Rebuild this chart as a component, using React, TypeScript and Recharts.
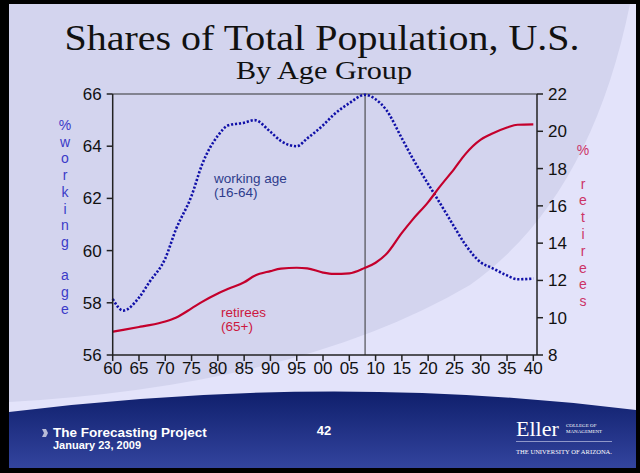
import { LineChart, Line, XAxis, YAxis, ReferenceLine } from "recharts";

const years = [
  1960, 1962, 1965, 1967, 1970, 1972, 1975, 1977, 1980, 1982, 1985, 1987,
  1990, 1992, 1995, 1997, 2000, 2002, 2005, 2008, 2010, 2012, 2015, 2017,
  2020, 2022, 2025, 2027, 2030, 2032, 2035, 2037, 2040,
];

// % of population aged 16-64 (left axis)
const workingAge = [
  58.15, 57.7, 58.2, 58.8, 59.7, 60.8, 62.1, 63.3, 64.4, 64.8, 64.9, 65.0,
  64.55, 64.2, 64.0, 64.3, 64.8, 65.2, 65.65, 65.97, 65.8, 65.4, 64.3, 63.55,
  62.55, 61.9, 60.9, 60.25, 59.55, 59.35, 59.05, 58.9, 58.93,
];

// % of population aged 65+ (right axis)
const retirees = [
  9.25, 9.35, 9.5, 9.6, 9.8, 10.0, 10.5, 10.85, 11.3, 11.55, 11.9, 12.25,
  12.5, 12.63, 12.68, 12.65, 12.42, 12.35, 12.38, 12.68, 12.95, 13.4, 14.55,
  15.25, 16.2, 16.95, 18.0, 18.75, 19.55, 19.85, 20.2, 20.35, 20.37,
];

const xTicks = [
  1960, 1965, 1970, 1975, 1980, 1985, 1990, 1995, 2000, 2005, 2010, 2015,
  2020, 2025, 2030, 2035, 2040,
];
const leftTicks = [56, 58, 60, 62, 64, 66];
const rightTicks = [8, 10, 12, 14, 16, 18, 20, 22];

const leftLetters = ["%", "w", "o", "r", "k", "i", "n", "g", "", "a", "g", "e"];
const rightLetters = ["%", "", "r", "e", "t", "i", "r", "e", "e", "s"];

const data = years.map((year, i) => ({
  year,
  working: workingAge[i],
  retirees: retirees[i],
}));

const sans = "'Liberation Sans', Arial, sans-serif";
const serif = "'Liberation Serif', 'Times New Roman', serif";

export default function App() {
  return (
    <div style={{ position: "relative", width: 640, height: 473, overflow: "hidden" }}>
      <style>{`body{margin:0}`}</style>
      {/* slide background */}
      <svg width={640} height={473} style={{ position: "absolute", left: 0, top: 0 }}>
        <defs>
          <linearGradient id="navy" x1="0" y1="0" x2="0" y2="1">
            <stop offset="0" stopColor="#0f1f6c" />
            <stop offset="1" stopColor="#33449e" />
          </linearGradient>
        </defs>
        <rect x={0} y={0} width={640} height={473} fill="#000" />
        <rect x={9} y={4} width={627} height={464} fill="#d3d4ee" />
        <path d="M 630 4 Q 590 200 470 285 Q 300 385 9 402 L 9 468 L 636 468 L 636 4 Z" fill="#e3e3fa" />
        <path d="M 9 412 Q 330 372 636 410 L 636 468 L 9 468 Z" fill="url(#navy)" />
      </svg>

      <div style={{ position: "absolute", left: 0, top: 0 }}>
        <LineChart
          width={640}
          height={473}
          data={data}
          margin={{ top: 94, right: 53, left: 62, bottom: 88 }}
        >
          <XAxis
            dataKey="year"
            type="number"
            domain={[1960, 2040.7]}
            ticks={xTicks}
            tickFormatter={(v) => String(v % 100).padStart(2, "0")}
            stroke="#222"
            strokeWidth={1.5}
            tick={{ fontSize: 17, fill: "#111", fontFamily: sans }}
            tickMargin={1}
            height={30}
          />
          <YAxis
            yAxisId="left"
            domain={[56, 66]}
            ticks={leftTicks}
            stroke="#222"
            strokeWidth={1.5}
            tick={{ fontSize: 17, fill: "#111", fontFamily: sans }}
            tickMargin={5}
            width={50.7}
          />
          <YAxis
            yAxisId="right"
            orientation="right"
            domain={[8, 22]}
            ticks={rightTicks}
            stroke="#222"
            strokeWidth={1.5}
            tick={{ fontSize: 17, fill: "#111", fontFamily: sans }}
            tickMargin={5}
            width={50}
          />
          <ReferenceLine yAxisId="left" y={66} stroke="#333" strokeWidth={1.2} />
          <ReferenceLine yAxisId="left" x={2008} stroke="#333" strokeWidth={1} />
          <Line
            yAxisId="left"
            type="monotone"
            dataKey="working"
            stroke="#1010a8"
            strokeWidth={2.6}
            strokeDasharray="2.2 1.8"
            dot={false}
            isAnimationActive={false}
          />
          <Line
            yAxisId="right"
            type="monotone"
            dataKey="retirees"
            stroke="#c4002c"
            strokeWidth={2.2}
            dot={false}
            isAnimationActive={false}
          />
        </LineChart>
      </div>

      {/* titles, axis labels, notes and footer */}
      <svg
        width={640}
        height={473}
        style={{ position: "absolute", left: 0, top: 0, pointerEvents: "none" }}
      >
        <text x={322} y={50} textAnchor="middle" fontFamily={serif} fontSize={36} fill="#111"
          textLength={515} lengthAdjust="spacingAndGlyphs">
          Shares of Total Population, U.S.
        </text>
        <text x={324} y={79} textAnchor="middle" fontFamily={serif} fontSize={26} fill="#111"
          textLength={176} lengthAdjust="spacingAndGlyphs">
          By Age Group
        </text>

        {leftLetters.map((c, i) => (
          <text key={"l" + i} x={65} y={130 + i * 16.7} textAnchor="middle"
            fontFamily={sans} fontSize={14} fill="#3a3ac8">
            {c}
          </text>
        ))}
        {rightLetters.map((c, i) => (
          <text key={"r" + i} x={583} y={155 + i * 16.8} textAnchor="middle"
            fontFamily={sans} fontSize={14} fill="#cc3366">
            {c}
          </text>
        ))}

        <text x={214} y={182.5} fontFamily={sans} fontSize={13.5} fill="#2e3c8c">working age</text>
        <text x={214} y={197} fontFamily={sans} fontSize={13.5} fill="#2e3c8c">(16-64)</text>
        <text x={221} y={316.5} fontFamily={sans} fontSize={13.5} fill="#cc1840">retirees</text>
        <text x={221} y={331} fontFamily={sans} fontSize={13.5} fill="#cc1840">(65+)</text>

        <path d="M 42 429 L 46 429 L 48 433 L 46 437 L 42 437 L 44 433 Z" fill="#b8bcd8" />
        <text x={53} y={437} fontFamily={sans} fontSize={13.5} fontWeight="bold" fill="#fff">
          The Forecasting Project
        </text>
        <text x={53} y={449} fontFamily={sans} fontSize={11} fontWeight="bold" fill="#fff">
          January 23, 2009
        </text>
        <text x={324} y={435} textAnchor="middle" fontFamily={sans} fontSize={13} fontWeight="bold" fill="#fff">
          42
        </text>

        <text x={516} y={436} fontFamily={serif} fontSize={22} fill="#fff">Eller</text>
        <text x={566} y={427} fontFamily={serif} fontSize={5} fill="#fff">COLLEGE OF</text>
        <text x={566} y={433} fontFamily={serif} fontSize={5} fill="#fff">MANAGEMENT</text>
        <line x1={516} y1={441.5} x2={612} y2={441.5} stroke="#aab0d8" strokeWidth={0.8} />
        <text x={516} y={454} fontFamily={serif} fontSize={7} fill="#fff"
          textLength={96} lengthAdjust="spacingAndGlyphs">
          THE UNIVERSITY OF ARIZONA.
        </text>
      </svg>
    </div>
  );
}
